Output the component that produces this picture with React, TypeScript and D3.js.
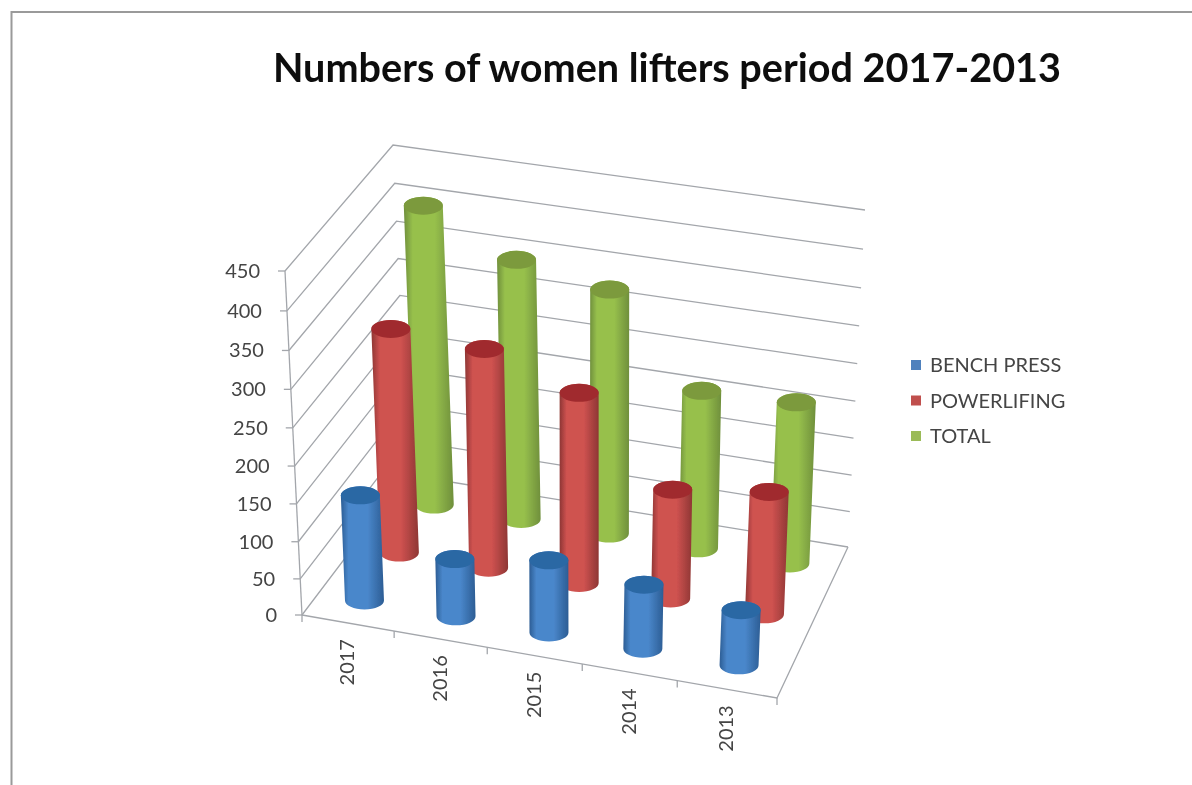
/**
 * 3D cylinder column chart of women lifters per year.
 */
import React, {useEffect, useRef} from 'react';
import * as d3 from 'd3';

const years = ['2017', '2016', '2015', '2014', '2013'];
const seriesNames = ['BENCH PRESS', 'POWERLIFING', 'TOTAL'];
const benchPress = [143, 79, 99, 88, 76];
const powerlifting = [303, 296, 258, 149, 167];
const total = [406, 353, 332, 216, 220];
const valueTicks = [0, 50, 100, 150, 200, 250, 300, 350, 400, 450];

const seriesValues = [benchPress, powerlifting, total];
const palette = [
  {legend: '#4f81bd', edge: '#2c5d94', mid: '#4a87cb', cap: '#2b67a4'},
  {legend: '#c0504d', edge: '#8e3634', mid: '#cf5250', cap: '#a02c2e'},
  {legend: '#9bbb59', edge: '#6f8f3c', mid: '#97c04c', cap: '#7c9a3c'},
];

type Pt = [number, number];

// Screen corners of the chart box: front/back, left/right, bottom/top
const corners: Record<string, Pt> = {
  flb: [302, 615],
  flt: [285, 271],
  frb: [777, 698],
  frt: [793, 355],
  blb: [408, 475],
  blt: [393, 145],
  brb: [848, 547],
  brt: [865, 210],
};

// Perspective foreshortening along the category and value edges
const perspectiveU = d3
  .scaleLinear()
  .domain([0, 0.2, 0.4, 0.6, 0.8, 1])
  .range([0, 0.194, 0.39, 0.59, 0.79, 1]);
const perspectiveW = d3
  .scaleLinear()
  .domain(d3.range(10).map((i) => i / 9))
  .range([0, 0.105, 0.213, 0.323, 0.433, 0.544, 0.656, 0.769, 0.884, 1]);

const mix = (a: Pt, b: Pt, t: number): Pt => [
  a[0] + (b[0] - a[0]) * t,
  a[1] + (b[1] - a[1]) * t,
];

/** Maps unit box coordinates onto the page. */
const project = (u: number, v: number, w: number): Pt => {
  const pu = perspectiveU(u);
  const pw = perspectiveW(w);
  const frontBottom = mix(corners.flb, corners.frb, pu);
  const frontTop = mix(corners.flt, corners.frt, pu);
  const backBottom = mix(corners.blb, corners.brb, pu);
  const backTop = mix(corners.blt, corners.brt, pu);
  return mix(mix(frontBottom, frontTop, pw), mix(backBottom, backTop, pw), v);
};

const App: React.FC = () => {
  const svgRef = useRef<SVGSVGElement>(null);

  useEffect(() => {
    if (!svgRef.current) return;
    const root = d3.select(svgRef.current);
    root.selectAll('*').remove();

    const font = 'Lato, "Open Sans", sans-serif';
    const rx = 19.5;
    const ry = 9;

    const xBand = d3.scaleBand<string>().domain(years).range([0, 1]);
    const xEdge = d3.scaleLinear().domain([0, years.length]).range([0, 1]);
    const depth = d3.scalePoint<string>().domain(seriesNames).range([0.16, 0.84]);
    const height = d3.scaleLinear().domain([0, 450]).range([0, 1]);

    const defs = root.append('defs');
    defs
      .append('filter')
      .attr('id', 'soft')
      .append('feGaussianBlur')
      .attr('stdDeviation', 0.55);

    palette.forEach((c, i) => {
      const gradient = defs
        .append('linearGradient')
        .attr('id', `body-${i}`)
        .attr('x1', 0)
        .attr('x2', 1)
        .attr('y1', 0)
        .attr('y2', 0);
      [
        [0, c.edge],
        [0.18, c.mid],
        [0.62, c.mid],
        [1, c.edge],
      ].forEach(([offset, color]) => {
        gradient.append('stop').attr('offset', offset).attr('stop-color', color);
      });
    });

    // The source is a soft screenshot, so everything sits under a slight blur
    const svg = root.append('g').attr('filter', 'url(#soft)');

    // Outer frame of the pasted picture
    svg
      .append('path')
      .attr('d', 'M11.5 785V12H1192')
      .attr('fill', 'none')
      .attr('stroke', '#9a9a9a')
      .attr('stroke-width', 2);

    // Title
    svg
      .append('text')
      .attr('x', 667)
      .attr('y', 82)
      .attr('text-anchor', 'middle')
      .attr('font-family', font)
      .attr('font-weight', 700)
      .attr('font-size', 39.6)
      .attr('fill', '#111')
      .text('Numbers of women lifters period 2017-2013');

    const walls = svg
      .append('g')
      .attr('fill', 'none')
      .attr('stroke', '#a3a6ab')
      .attr('stroke-width', 1.3);

    const line = d3.line<Pt>();

    // Gridlines on the two walls
    valueTicks.forEach((tick) => {
      const w = height(tick);
      walls
        .append('path')
        .attr('d', line([project(0, 0, w), project(0, 1, w), project(1, 1, w)]));
    });

    // Floor outline and value axis
    walls
      .append('path')
      .attr('d', line([project(0, 0, 0), project(1, 0, 0), project(1, 1, 0)]));
    walls.append('path').attr('d', line([project(0, 0, 0), project(0, 0, 1)]));

    // Value axis ticks and labels
    valueTicks.forEach((tick) => {
      const [px, py] = project(0, 0, height(tick));
      walls.append('path').attr('d', `M${px - 7} ${py}H${px}`);
      svg
        .append('text')
        .attr('x', px - 25)
        .attr('y', py + 7)
        .attr('text-anchor', 'end')
        .attr('font-family', font)
        .attr('font-size', 20)
        .attr('fill', '#444')
        .text(tick);
    });

    // Category ticks and rotated labels
    d3.range(years.length + 1).forEach((i) => {
      const [px, py] = project(xEdge(i), 0, 0);
      walls.append('path').attr('d', `M${px} ${py}v7`);
    });
    years.forEach((year) => {
      const [px, py] = project(xBand(year)! + xBand.bandwidth() / 2, 0, 0);
      svg
        .append('text')
        .attr('transform', `translate(${px + 6},${py + 16}) rotate(-90)`)
        .attr('text-anchor', 'end')
        .attr('font-family', font)
        .attr('font-size', 20)
        .attr('fill', '#444')
        .text(year);
    });

    // Cylinders, back row first
    const bars = svg.append('g');
    [2, 1, 0].forEach((s) => {
      const v = depth(seriesNames[s])!;
      years.forEach((year, i) => {
        const u = xBand(year)! + xBand.bandwidth() / 2;
        const [bx, by] = project(u, v, 0);
        const [tx, ty] = project(u, v, height(seriesValues[s][i]));
        bars
          .append('path')
          .attr(
            'd',
            `M${tx - rx} ${ty}L${bx - rx} ${by}` +
              `A${rx} ${ry} 0 0 0 ${bx + rx} ${by}` +
              `L${tx + rx} ${ty}` +
              `A${rx} ${ry} 0 0 0 ${tx - rx} ${ty}Z`,
          )
          .attr('fill', `url(#body-${s})`);
        bars
          .append('ellipse')
          .attr('cx', tx)
          .attr('cy', ty)
          .attr('rx', rx)
          .attr('ry', ry)
          .attr('fill', palette[s].cap);
      });
    });

    // Legend
    const legendY = d3.scalePoint<string>().domain(seriesNames).range([365, 436]);
    seriesNames.forEach((name, s) => {
      const y = legendY(name)!;
      svg
        .append('rect')
        .attr('x', 911)
        .attr('y', y - 5)
        .attr('width', 10)
        .attr('height', 10)
        .attr('fill', palette[s].legend);
      svg
        .append('text')
        .attr('x', 930)
        .attr('y', y + 7)
        .attr('font-family', font)
        .attr('font-size', 20)
        .attr('fill', '#444')
        .text(name);
    });
  }, []);

  return (
    <svg
      ref={svgRef}
      width={1192}
      height={785}
      style={{position: 'absolute', left: 0, top: 0, background: '#fff'}}
    />
  );
};

export default App;
